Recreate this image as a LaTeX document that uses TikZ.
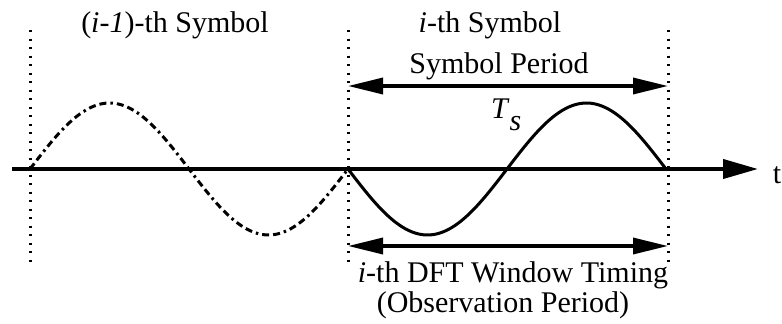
\documentclass[tikz,border=0pt]{standalone}
\usepackage{fontspec}
\setmainfont{Liberation Serif}
\usetikzlibrary{arrows.meta}
\tikzset{
  lbl/.style={inner sep=0pt, anchor=base, font=\fontsize{30}{36}\selectfont},
  axisline/.style={line width=4pt, -{Triangle[length=35pt,width=19pt]}},
  dimarrow/.style={line width=3.5pt, {Triangle[length=35pt,width=16pt]}-{Triangle[length=35pt,width=16pt]}},
  guide/.style={line width=3pt, dash pattern=on 2pt off 6.5pt},
  wave/.style={line width=3pt, line join=round},
  prevwave/.style={wave, dash pattern=on 7pt off 4pt on 7pt off 4pt on 2.5pt off 4pt},
}
\begin{document}
\begin{tikzpicture}[x=1pt,y=1pt]
\useasboundingbox (0,0) rectangle (782,-324);
% guide lines
\coordinate (g1t) at (30,-30);  \coordinate (g1b) at (30,-266);
\coordinate (g2t) at (348,-30); \coordinate (g2b) at (348,-266);
\coordinate (g3t) at (668,-30); \coordinate (g3b) at (668,-266);
\draw[guide] (g1t) -- (g1b);
\draw[guide] (g2t) -- (g2b);
\draw[guide] (g3t) -- (g3b);
% waves
\draw[prevwave] plot[domain=0:1, samples=90, smooth] ({30+318*\x}, {-169+66*sin(360*\x)});
\draw[wave] plot[domain=0:1, samples=90, smooth] ({348+318*\x}, {-169-66*sin(360*\x)});
% axis
\coordinate (ax0) at (12,-169);
\coordinate (ax1) at (758,-169);
\draw[axisline] (ax0) -- (ax1);
\node[lbl] (t) at (777,-183) {t};
% dimension arrows
\coordinate (sp0) at (348,-86); \coordinate (sp1) at (668,-86);
\draw[dimarrow] (sp0) -- (sp1);
\coordinate (dw0) at (348,-246); \coordinate (dw1) at (668,-246);
\draw[dimarrow] (dw0) -- (dw1);
% labels
\node[lbl] (prev) at (175,-32) {(\textit{i-1})-th Symbol};
\node[lbl] (cur) at (490,-32) {\textit{i}-th Symbol};
\node[lbl] (per) at (499,-73) {Symbol Period};
\node[lbl, anchor=base west] (ts) at (491,-118) {\textit{T}\raisebox{-12pt}{\textit{s}}};
\node[lbl] (dft) at (513,-282) {\textit{i}-th DFT Window Timing};
\node[lbl] (obs) at (503,-312) {(Observation Period)};
\end{tikzpicture}
\end{document}
